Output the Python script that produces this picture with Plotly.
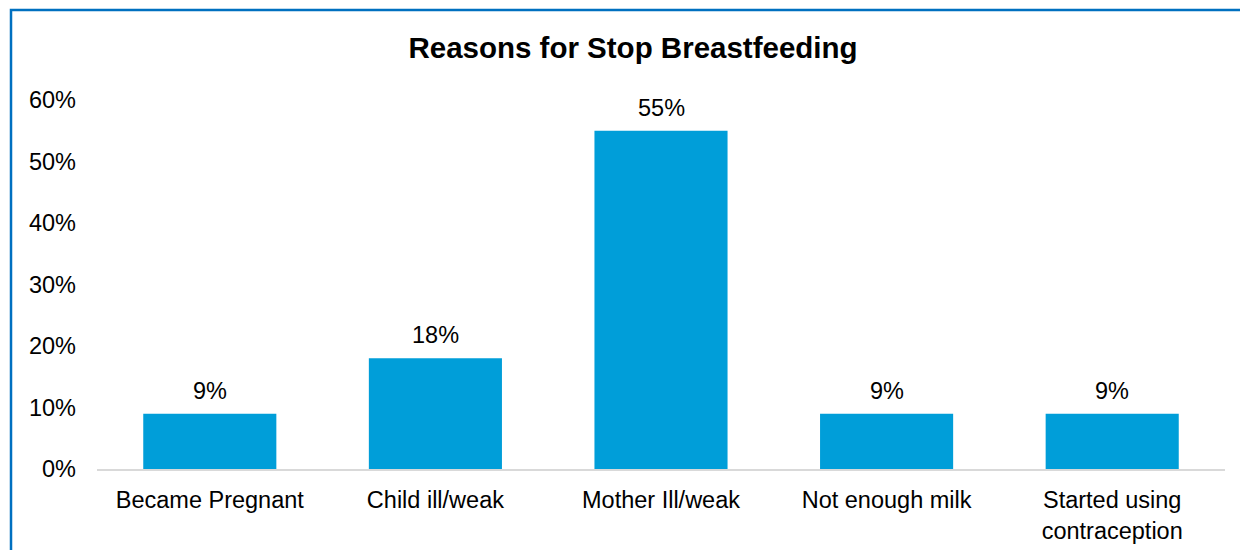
import plotly.graph_objects as go

categories = ["Became Pregnant", "Child ill/weak", "Mother Ill/weak",
              "Not enough milk", "Started using<br>contraception"]
percent_values = [9, 18, 55, 9, 9]
y_tick_values = [0, 10, 20, 30, 40, 50, 60]
y_tick_labels = [f"{v}%" for v in y_tick_values]

BAR_COLOR = "#009ED9"
FONT = "Liberation Sans, Arial, sans-serif"
LABEL_SIZE = 23.5

fig = go.Figure()
fig.add_trace(go.Bar(
    x=categories,
    y=percent_values,
    marker=dict(color=BAR_COLOR, line=dict(width=0)),
    hoverinfo="skip",
))

# value labels above each bar
for cat, v in zip(categories, percent_values):
    fig.add_annotation(
        x=cat, y=v, text=f"{v}%", showarrow=False,
        xref="x", yref="y", yanchor="bottom", yshift=8,
        font=dict(family=FONT, size=LABEL_SIZE, color="#000000"),
    )

W, H = 1240, 550
ml, mr, mt, mb = 97, 15, 100, 81
pw, ph = W - ml - mr, H - mt - mb

# frame around the chart
fig.add_shape(
    type="rect", xref="paper", yref="paper",
    x0=(11 - ml) / pw, x1=(W + 20 - ml) / pw,
    y0=-(mb + 20) / ph, y1=1 + (mt - 10) / ph,
    line=dict(color="#0070C0", width=2.5), fillcolor="rgba(0,0,0,0)",
    layer="below",
)

fig.update_layout(
    width=W, height=H,
    margin=dict(l=ml, r=mr, t=mt, b=mb, autoexpand=False),
    paper_bgcolor="white", plot_bgcolor="white",
    bargap=0.41,
    showlegend=False,
    font=dict(family=FONT, size=LABEL_SIZE, color="#000000"),
    title=dict(
        text="<b>Reasons for Stop Breastfeeding</b>",
        x=633 / W, xref="container", xanchor="center",
        y=1 - 48 / H, yref="container", yanchor="middle",
        font=dict(family=FONT, size=29.5, color="#000000"),
    ),
    xaxis=dict(
        showgrid=False, showline=True, linecolor="#D9D9D9", linewidth=2,
        ticks="", tickfont=dict(size=LABEL_SIZE), ticklabelstandoff=9,
        automargin=False,
    ),
    yaxis=dict(
        range=[0, 60], showgrid=False, zeroline=False, showline=False,
        tickvals=y_tick_values, ticktext=y_tick_labels,
        ticks="", tickfont=dict(size=LABEL_SIZE), ticklabelstandoff=20,
        automargin=False,
    ),
)

fig.write_html("out.html")
